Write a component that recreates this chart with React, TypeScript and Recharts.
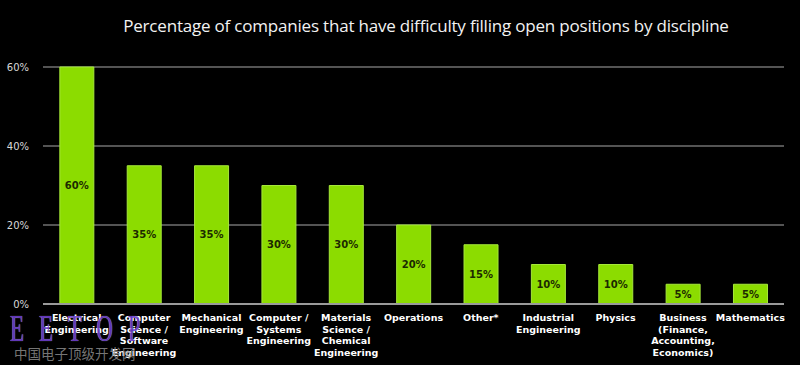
import { BarChart, Bar, XAxis, YAxis, CartesianGrid, LabelList } from "recharts";

const disciplines = [
    "Electrical\nEngineering",
    "Computer\nScience /\nSoftware\nEngineering",
    "Mechanical\nEngineering",
    "Computer /\nSystems\nEngineering",
    "Materials\nScience /\nChemical\nEngineering",
    "Operations",
    "Other*",
    "Industrial\nEngineering",
    "Physics",
    "Business\n(Finance,\nAccounting,\nEconomics)",
    "Mathematics"
];
const percentages = [60, 35, 35, 30, 30, 20, 15, 10, 10, 5, 5];
const yTicks = [0, 20, 40, 60];

const data = disciplines.map((name, i) => ({ name, value: percentages[i] }));

const CategoryTick = (props: any) => {
    const { x, y, payload } = props;
    const lines = String(payload.value).split("\n");
    return (
        <text
            x={x}
            y={y}
            textAnchor="middle"
            fill="#ffffff"
            fontFamily="DejaVu Sans, Verdana, sans-serif"
            fontWeight="bold"
            fontSize={9.5}
        >
            {lines.map((line, i) => (
                <tspan key={i} x={x} dy={i === 0 ? 9 : 11.5}>
                    {line}
                </tspan>
            ))}
        </text>
    );
};

export default function App() {
    return (
        <div style={{ position: "fixed", left: 0, top: 0, width: 800, height: 365, background: "#000", overflow: "hidden" }}>
            <div
                style={{
                    position: "absolute",
                    top: 14,
                    left: 0,
                    width: 852,
                    textAlign: "center",
                    color: "#f2f2f2",
                    fontFamily: "'Open Sans', sans-serif",
                    fontSize: 17,
                    letterSpacing: -0.2
                }}
            >
                Percentage of companies that have difficulty filling open positions by discipline
            </div>
            <BarChart
                width={800}
                height={365}
                data={data}
                margin={{ top: 67, right: 16, left: 0, bottom: 5 }}
                barCategoryGap="25%"
            >
                <CartesianGrid vertical={false} stroke="#a8a8a8" strokeWidth={1} />
                <XAxis
                    dataKey="name"
                    interval={0}
                    height={56}
                    axisLine={{ stroke: "#9a9a9a", strokeWidth: 2 }}
                    tickLine={false}
                    tick={<CategoryTick />}
                />
                <YAxis
                    domain={[0, 60]}
                    ticks={yTicks}
                    width={43}
                    axisLine={false}
                    tickLine={false}
                    tickFormatter={(v) => `${v}%`}
                    tick={{ fill: "#d8d8d8", fontSize: 10, fontFamily: "DejaVu Sans, Verdana, sans-serif" }}
                    tickMargin={8}
                />
                <Bar dataKey="value" fill="#8cdc00" stroke="#a6e83a" strokeWidth={1} isAnimationActive={false}>
                    <LabelList
                        dataKey="value"
                        position="center"
                        formatter={(v: any) => `${v}%`}
                        fill="#1c2a00"
                        fontSize={10}
                        fontWeight="bold"
                        fontFamily="DejaVu Sans, Verdana, sans-serif"
                    />
                </Bar>
            </BarChart>
            {/* watermark from the source image */}
            <div
                style={{
                    position: "absolute",
                    left: 10,
                    top: 310,
                    color: "#6c3fcc",
                    fontFamily: "'Liberation Serif', serif",
                    fontSize: 37,
                    lineHeight: 1,
                    letterSpacing: 24,
                    whiteSpace: "nowrap",
                    transform: "scaleX(0.62)",
                    transformOrigin: "left top",
                    opacity: 0.9,
                    textShadow: "0 0 1px #e8e0ff"
                }}
            >
                EETOP
            </div>
            <div
                style={{
                    position: "absolute",
                    left: 14,
                    top: 343,
                    color: "#8a8a8a",
                    fontFamily: "'Noto Sans CJK SC', sans-serif",
                    fontSize: 13.5,
                    opacity: 0.85
                }}
            >
                中国电子顶级开发网
            </div>
        </div>
    );
}
